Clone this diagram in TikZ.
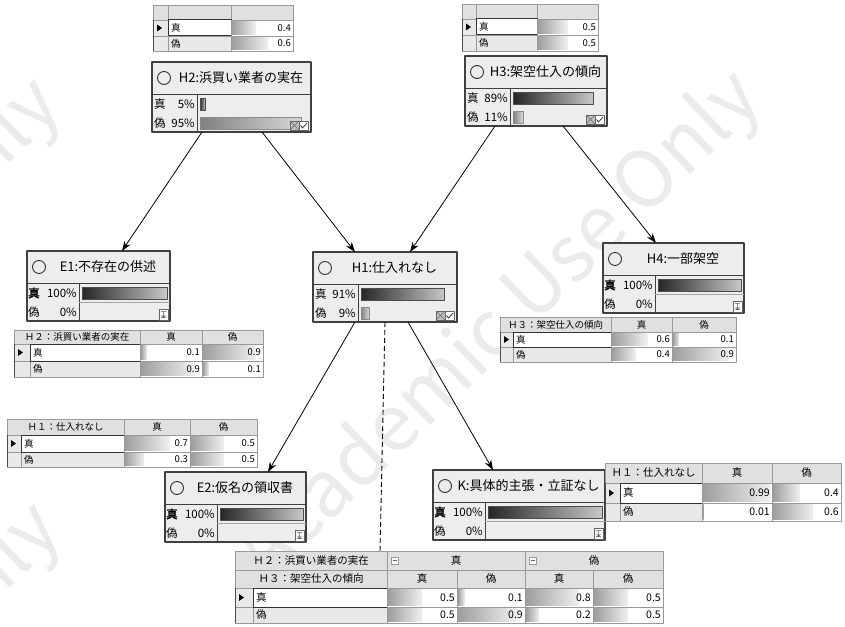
\documentclass[tikz,border=0pt]{standalone}
\usepackage{fontspec}
\setmainfont{Noto Sans CJK JP}
\newfontfamily\jpbold{Noto Sans CJK JP}[FakeBold=2]
\usetikzlibrary{arrows.meta}

\tikzset{
  netbox/.style={draw=black!75,line width=1.1pt,fill=black!7,anchor=north west,
    inner sep=0pt,outer sep=0pt},
  frameline/.style={draw=black!75,line width=1pt},
  darkbar/.style={draw=black!70,line width=0.5pt,left color=black!85,right color=black!22},
  lightbar/.style={draw=black!45,line width=0.5pt,left color=black!50,right color=black!15},
  cellbar/.style={left color=black!38,right color=black!6},
  grid/.style={draw=black!40,line width=0.5pt},
  hdr/.style={fill=black!12},
  link/.style={-{Stealth[length=10pt,width=7pt]},line width=0.8pt},
  titletext/.style={font=\fontsize{13}{15}\selectfont,inner sep=0pt},
  probtext/.style={font=\fontsize{11.5}{13}\selectfont,inner sep=0pt},
  celltext/.style={font=\fontsize{9.5}{11}\selectfont,inner sep=0pt},
  watermark/.style={rotate=44,text=black!8,font=\fontsize{78}{80}\selectfont},
}

% node frame: name, x, y, width, label column width
\newcommand\netframe[5]{%
  \node[netbox,minimum width=#4pt,minimum height=70pt] (#1) at (#2,#3) {};
  \draw[frameline] (#2,#3+32) -- (#2+#4,#3+32);
  \draw[frameline] (#2+#5,#3+32) -- (#2+#5,#3+70);
  \draw[black!80,line width=0.9pt] (#2+12,#3+16) circle (6.5pt);
}
% query node: name, x, y, width, title, true %, false %
\newcommand\querynode[7]{%
  \netframe{#1}{#2}{#3}{#4}{45}
  \node[titletext] (#1-ttl) at ({#2+9.5+#4/2},#3+16) {#5};
  \node[probtext,anchor=west] (#1-lt) at (#2+2,#3+42) {真};
  \node[probtext,anchor=east] (#1-pt) at (#2+43,#3+42) {#6\%};
  \node[probtext,anchor=west] (#1-lf) at (#2+2,#3+61) {偽};
  \node[probtext,anchor=east] (#1-pf) at (#2+43,#3+61) {#7\%};
  \shadedraw[darkbar] (#2+48,#3+36) rectangle ({#2+48+max(3,(#4-52)*#6/100)},#3+48);
  \shadedraw[lightbar] (#2+48,#3+55) rectangle ({#2+48+max(3,(#4-52)*#7/100)},#3+67);
  % small state icons
  \filldraw[fill=black!25,draw=black!60,line width=0.4pt] (#2+#4-21,#3+59) rectangle ++(9,9);
  \draw[black!60,line width=0.4pt] (#2+#4-21,#3+59) -- ++(9,9) (#2+#4-21,#3+68) -- ++(9,-9);
  \filldraw[fill=white,draw=black!60,line width=0.4pt] (#2+#4-12,#3+59) rectangle ++(9,9);
  \draw[black!80,line width=0.8pt] (#2+#4-10.5,#3+63.5) -- ++(2,2.5) -- ++(4.5,-5);
}
% evidence node: name, x, y, width, title
\newcommand\evidnode[5]{%
  \netframe{#1}{#2}{#3}{#4}{52}
  \draw[black!35,line width=0.5pt] (#2+52,#3+51) -- (#2+#4,#3+51);
  \node[titletext] (#1-ttl) at ({#2+9.5+#4/2},#3+16) {#5};
  \node[probtext,anchor=west] (#1-lt) at (#2+1,#3+42) {\jpbold 真};
  \node[probtext,anchor=east] (#1-pt) at (#2+50,#3+42) {100\%};
  \node[probtext,anchor=west] (#1-lf) at (#2+1,#3+61) {偽};
  \node[probtext,anchor=east] (#1-pf) at (#2+50,#3+61) {0\%};
  \shadedraw[darkbar] (#2+55,#3+36) rectangle (#2+#4-3,#3+48);
  % evidence icon
  \filldraw[fill=white,draw=black!60,line width=0.4pt] (#2+#4-11,#3+58) rectangle ++(9,11);
  \draw[black!70,line width=0.5pt] (#2+#4-9,#3+60.5) -- ++(5,0) (#2+#4-9,#3+66.5) -- ++(5,0)
    (#2+#4-6.5,#3+60.5) -- ++(0,6) (#2+#4-8.5,#3+64) -- ++(2,2.2) -- ++(2,-2.2);
}
% table cells
\newcommand\hdrcell[5]{%
  \filldraw[hdr,grid] (#1,#2) rectangle (#3,#4);
  \node[celltext] (h#1-#2) at ({(#1+#3)/2},{(#2+#4)/2}) {#5};
}
\newcommand\valcell[5]{%
  \filldraw[fill=white,grid] (#1,#2) rectangle (#3,#4);
  \shade[cellbar] (#1+1,#2+1.5) rectangle ({#1+1+#5*(#3-#1-2)},#4-1.5);
  \node[celltext,anchor=east] (v#1-#2) at (#3-2,{(#2+#4)/2}) {#5};
}
% state rows: x0, arrow col, label col, y1, y2, y3
\newcommand\rowlabels[6]{%
  \filldraw[fill=black!9,grid] (#1,#4) rectangle (#2,#6);
  \draw[grid] (#1,#5) -- (#2,#5);
  \draw[black!70,line width=0.8pt] (#1,#4) -- (#1,#6) (#2,#4) -- (#2,#6);
  \fill[black] (#1+4,{(#4+#5)/2-3.5}) -- ++(5,3.5) -- ++(-5,3.5) -- cycle;
  \filldraw[fill=black!9,grid] (#2,#5) rectangle (#3,#6);
  \node[celltext,anchor=west] (f#1-#5) at (#2+3,{(#5+#6)/2}) {偽};
  \filldraw[fill=white,draw=black!80,line width=1pt] (#2,#4) rectangle (#3,#5);
  \node[celltext,anchor=west] (t#1-#4) at (#2+3,{(#4+#5)/2}) {真};
}

\begin{document}
\begin{tikzpicture}[x=1pt,y=-1pt,line join=round]
  \fill[white] (0,0) rectangle (845,626);
  \useasboundingbox (0,0) rectangle (845,626);

  % ---------- watermark ----------
  \node[watermark] (wm1) at (500,328) {Academic Use Only};
  \node[watermark] (wm2) at (-200,335) {Academic Use Only};
  \node[watermark] (wm3) at (-200,760) {Academic Use Only};

  % ---------- network nodes ----------
  \querynode{H2}{152}{62}{159}{H2:浜買い業者の実在}{5}{95}
  \querynode{H3}{465}{56}{142}{H3:架空仕入の傾向}{89}{11}
  \querynode{H1}{313}{252}{144}{H1:仕入れなし}{91}{9}
  \evidnode{E1}{27}{251}{143}{E1:不存在の供述}
  \evidnode{H4}{603}{243}{141}{H4:一部架空}
  \evidnode{E2}{165}{472}{141}{E2:仮名の領収書}
  \evidnode{K}{433}{470}{172}{K:具体的主張・立証なし}

  % ---------- links ----------
  \draw[link] ([xshift=50pt]H2.south west) -- ([xshift=95pt]E1.north west);
  \draw[link] ([xshift=110pt]H2.south west) -- ([xshift=42pt]H1.north west);
  \draw[link] ([xshift=30pt]H3.south west) -- ([xshift=97pt]H1.north west);
  \draw[link] ([xshift=98pt]H3.south west) -- ([xshift=53pt]H4.north west);
  \draw[link] ([xshift=42pt]H1.south west) -- ([xshift=103pt]E2.north west);
  \draw[link] ([xshift=95pt]H1.south west) -- ([xshift=60pt]K.north west);
  \coordinate (cpt1) at (380,551);
  \draw[line width=0.9pt,dash pattern=on 5pt off 3pt] ([xshift=72pt]H1.south west) -- (cpt1);

  % ---------- prior of H2 ----------
  \hdrcell{153}{5}{168}{20}{} \hdrcell{168}{5}{231}{20}{} \hdrcell{231}{5}{293}{20}{}
  \rowlabels{153}{168}{231}{20}{36}{51}
  \valcell{231}{20}{293}{36}{0.4} \valcell{231}{36}{293}{51}{0.6}

  % ---------- prior of H3 ----------
  \hdrcell{462}{4}{476}{19}{} \hdrcell{476}{4}{537}{19}{} \hdrcell{537}{4}{598}{19}{}
  \rowlabels{462}{476}{537}{19}{35}{51}
  \valcell{537}{19}{598}{35}{0.5} \valcell{537}{35}{598}{51}{0.5}

  % ---------- E1 given H2 ----------
  \hdrcell{14}{330}{140}{344}{Ｈ２：浜買い業者の実在}
  \hdrcell{140}{330}{202}{344}{真} \hdrcell{202}{330}{263}{344}{偽}
  \rowlabels{14}{30}{140}{344}{361}{377}
  \valcell{140}{344}{202}{361}{0.1} \valcell{202}{344}{263}{361}{0.9}
  \valcell{140}{361}{202}{377}{0.9} \valcell{202}{361}{263}{377}{0.1}

  % ---------- H4 given H3 ----------
  \hdrcell{500}{317}{611}{332}{Ｈ３：架空仕入の傾向}
  \hdrcell{611}{317}{672}{332}{真} \hdrcell{672}{317}{736}{332}{偽}
  \rowlabels{500}{513}{611}{332}{347}{362}
  \valcell{611}{332}{672}{347}{0.6} \valcell{672}{332}{736}{347}{0.1}
  \valcell{611}{347}{672}{362}{0.4} \valcell{672}{347}{736}{362}{0.9}

  % ---------- E2 given H1 ----------
  \hdrcell{7}{419}{124}{435}{Ｈ１：仕入れなし}
  \hdrcell{124}{419}{190}{435}{真} \hdrcell{190}{419}{257}{435}{偽}
  \rowlabels{7}{21}{124}{435}{452}{467}
  \valcell{124}{435}{190}{452}{0.7} \valcell{190}{435}{257}{452}{0.5}
  \valcell{124}{452}{190}{467}{0.3} \valcell{190}{452}{257}{467}{0.5}

  % ---------- K given H1 ----------
  \begin{scope}[celltext/.append style={font=\fontsize{10.5}{12}\selectfont}]
    \hdrcell{605}{463}{702}{483}{Ｈ１：仕入れなし}
    \hdrcell{702}{463}{772}{483}{真} \hdrcell{772}{463}{841}{483}{偽}
    \rowlabels{605}{620}{702}{483}{503}{521}
    \valcell{702}{483}{772}{503}{0.99} \valcell{772}{483}{841}{503}{0.4}
    \valcell{702}{503}{772}{521}{0.01} \valcell{772}{503}{841}{521}{0.6}
  \end{scope}

  % ---------- H1 given H2, H3 ----------
  \begin{scope}[celltext/.append style={font=\fontsize{10.5}{12}\selectfont}]
    \hdrcell{235}{551}{387}{570}{Ｈ２：浜買い業者の実在}
    \hdrcell{387}{551}{525}{570}{真} \hdrcell{525}{551}{663}{570}{偽}
    \foreach \xb in {391,529}{
      \filldraw[fill=white,grid] (\xb,557) rectangle ++(7,7);
      \draw[black!60,line width=0.4pt] (\xb+1.5,560.5) -- ++(4,0);
    }
    \hdrcell{235}{570}{387}{588}{Ｈ３：架空仕入の傾向}
    \hdrcell{387}{570}{457}{588}{真} \hdrcell{457}{570}{525}{588}{偽}
    \hdrcell{525}{570}{593}{588}{真} \hdrcell{593}{570}{663}{588}{偽}
    \rowlabels{235}{253}{387}{588}{607}{623}
    \foreach \xa/\xb/\p/\q in {387/457/0.5/0.5,457/525/0.1/0.9,525/593/0.8/0.2,593/663/0.5/0.5}{
      \valcell{\xa}{588}{\xb}{607}{\p}
      \valcell{\xa}{607}{\xb}{623}{\q}
    }
  \end{scope}
\end{tikzpicture}
\end{document}
